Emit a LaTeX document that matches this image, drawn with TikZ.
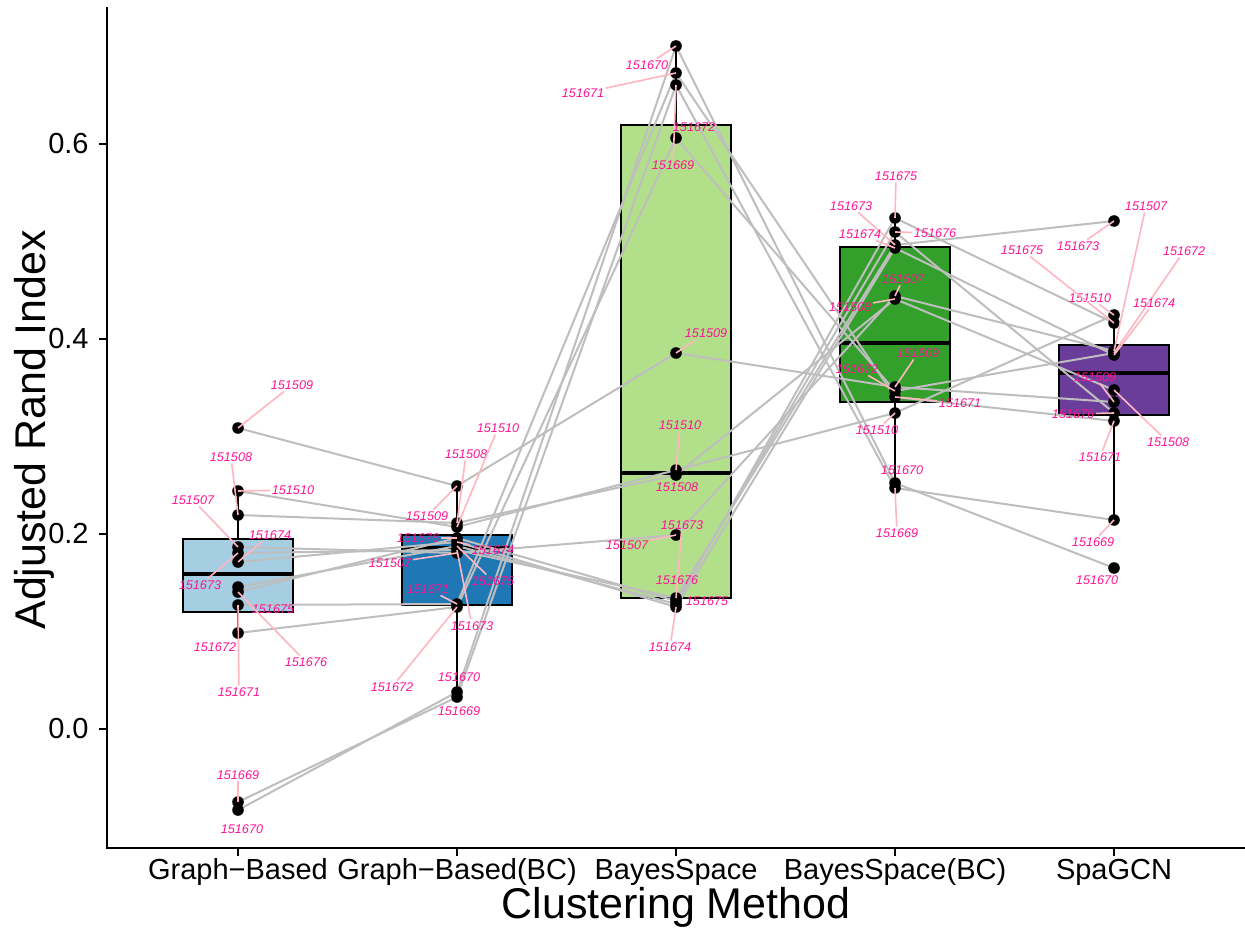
\documentclass[tikz,border=0pt]{standalone}
\usepackage{fontspec}
\setmainfont{Liberation Sans}
\definecolor{fillA}{HTML}{A6CEE3}
\definecolor{fillB}{HTML}{1F78B4}
\definecolor{fillC}{HTML}{B2DF8A}
\definecolor{fillD}{HTML}{33A02C}
\definecolor{fillE}{HTML}{6A3D9A}
\definecolor{pairline}{RGB}{190,190,190}
\definecolor{labtext}{RGB}{255,20,147}
\definecolor{leadline}{RGB}{255,182,193}
\tikzset{
  axisline/.style={line width=1pt, line cap=rect},
  boxbody/.style={draw=black, line width=1.1pt},
  whisk/.style={black, line width=1.1pt},
  med/.style={black, line width=1.8pt},
  conn/.style={draw=pairline, line width=1pt},
  pt/.style={circle, fill=black, inner sep=0pt, minimum size=5.8pt},
  lab/.style={text=labtext, font=\fontsize{6.3}{7}\selectfont\itshape, inner sep=0.8pt},
  lead/.style={draw=leadline, line width=0.8pt},
  ticklab/.style={font=\fontsize{14.5}{16}\selectfont, inner sep=0pt},
  axtitle/.style={font=\fontsize{21.5}{24}\selectfont, inner sep=0pt}
}
% box: name, centre x, Q3 y, Q1 y, median y, upper whisker y, lower whisker y, fill
\newcommand\drawbox[8]{%
  \draw[whisk] (#2,#3) -- (#2,#6);
  \draw[whisk] (#2,#4) -- (#2,#7);
  \draw[boxbody, fill=#8] (#2-55,#3) rectangle (#2+55,#4);
  \draw[med] (#2-55,#5) -- (#2+55,#5);
}
\begin{document}
\begin{tikzpicture}[x=0.5pt, y=-0.5pt]
\useasboundingbox (0,0) rectangle (1245,930);
\fill[white] (0,0) rectangle (1245,930);

% boxes
\drawbox{A}{238}{539}{612}{574}{491}{633}{fillA}
\drawbox{B}{457}{535}{605}{548}{486}{697}{fillB}
\drawbox{C}{676}{125}{598}{473}{46}{607}{fillC}
\drawbox{D}{895}{247}{402}{343}{218}{488}{fillD}
\drawbox{E}{1114}{345}{415}{373}{315}{520}{fillE}

% sample positions for each method
\foreach \s/\ya/\yb/\yc/\yd/\ye in {
  507/547/553/535/296/351, 508/515/523/475/299/390,
  509/428/486/353/387/402, 510/491/527/470/413/315,
  669/802/697/85/488/520,  670/810/692/46/483/568,
  671/605/604/73/397/421,  672/633/607/138/391/353,
  673/553/550/598/245/221, 674/562/542/607/248/355,
  675/587/546/604/218/323, 676/592/538/601/232/413}{
  \coordinate (a\s) at (238,\ya);
  \coordinate (b\s) at (457,\yb);
  \coordinate (c\s) at (676,\yc);
  \coordinate (d\s) at (895,\yd);
  \coordinate (e\s) at (1114,\ye);
}

% paired lines
\foreach \s in {507,508,509,510,669,670,671,672,673,674,675,676}
  \draw[conn] (a\s) -- (b\s) -- (c\s) -- (d\s) -- (e\s);

% points
\foreach \s in {507,508,509,510,669,670,671,672,673,674,675,676}
  \foreach \m in {a,b,c,d,e}
    \node[pt] (\m\s-dot) at (\m\s) {};

% sample labels with leader segments
\foreach \m/\s/\lx/\ly/\ld in {
  a/507/193/500/1, a/508/231/457/1, a/509/292/385/1, a/510/293/490/1,
  a/669/238/775/1, a/670/242/829/0, a/671/239/692/1, a/672/215/647/0,
  a/673/200/585/1, a/674/270/535/1, a/675/273/609/0, a/676/306/662/1,
  b/507/390/563/1, b/508/466/454/1, b/509/427/516/1, b/510/498/428/1,
  b/669/459/711/0, b/670/459/677/0, b/671/428/589/1, b/672/392/687/1,
  b/673/472/626/1, b/674/493/550/1, b/675/493/581/1, b/676/418/538/1,
  c/507/627/545/1, c/508/677/487/0, c/509/706/333/1, c/510/680/425/1,
  c/669/673/165/1, c/670/647/65/1,  c/671/583/93/1,  c/672/694/127/0,
  c/673/682/525/1, c/674/670/647/1, c/675/707/601/0, c/676/677/580/0,
  d/507/903/279/1, d/508/850/307/1, d/509/918/353/1, d/510/877/430/1,
  d/669/897/533/1, d/670/902/470/0, d/671/960/403/1, d/672/857/369/1,
  d/673/851/206/1, d/674/860/234/1, d/675/896/176/1, d/676/935/233/1,
  e/507/1146/206/1, e/508/1168/442/1, e/509/1095/377/1, e/510/1090/298/1,
  e/669/1093/542/1, e/670/1097/580/0, e/671/1100/457/1, e/672/1184/251/1,
  e/673/1078/246/1, e/674/1154/303/1, e/675/1022/250/1, e/676/1073/414/1}{
  \node[lab] (\m\s-lab) at (\lx,\ly) {151\s};
  \ifnum\ld=1 \draw[lead] (\m\s-lab) -- (\m\s); \fi
}

% axes
\draw[axisline] (107,8) -- (107,848) -- (1245,848);
\foreach \v/\yy [count=\i] in {0.0/729,0.2/534,0.4/339,0.6/144}{
  \draw[axisline] (100,\yy) -- (107,\yy);
  \node[ticklab, anchor=east] (ytick\i) at (89,\yy) {\v};
}
\foreach \xx/\t [count=\i] in {238/Graph−Based,457/Graph−Based(BC),676/BayesSpace,895/BayesSpace(BC),1114/SpaGCN}{
  \draw[axisline] (\xx,848) -- (\xx,855);
  \node[ticklab, anchor=base] (xtick\i) at (\xx,879) {\t};
}
\node[axtitle, anchor=base] (xtitle) at (676,918) {Clustering Method};
\node[axtitle, anchor=base, rotate=90] (ytitle) at (45,430) {Adjusted Rand Index};
\end{tikzpicture}
\end{document}
